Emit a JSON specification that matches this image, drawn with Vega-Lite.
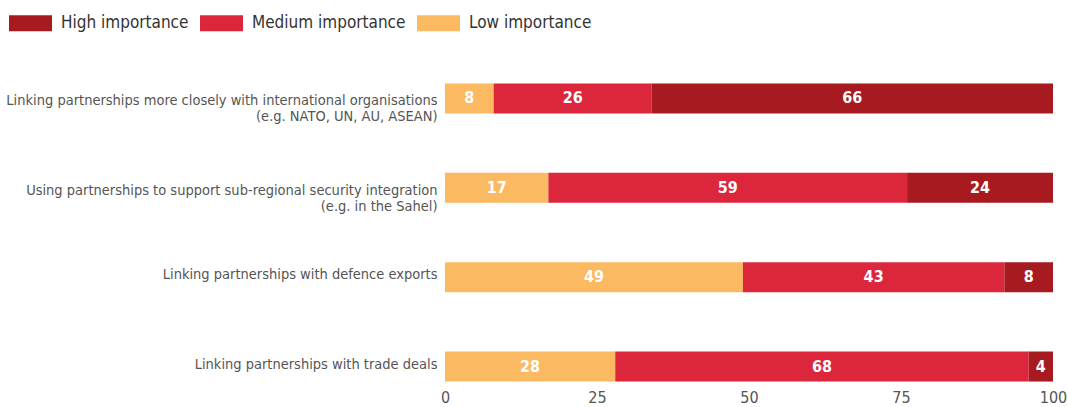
{
  "$schema": "https://vega.github.io/schema/vega-lite/v6.json",
  "width": 608,
  "height": 302,
  "autosize": "none",
  "padding": {"left": 445, "top": 81.5, "right": 15, "bottom": 23.5},
  "background": "white",
  "config": {
    "view": {"stroke": null},
    "font": "DejaVu Sans Condensed, sans-serif"
  },
  "data": {
    "values": [
      {"category": "Linking partnerships more closely with international organisations (e.g. NATO, UN, AU, ASEAN)", "level": "Low importance", "value": 8, "order": 1},
      {"category": "Linking partnerships more closely with international organisations (e.g. NATO, UN, AU, ASEAN)", "level": "Medium importance", "value": 26, "order": 2},
      {"category": "Linking partnerships more closely with international organisations (e.g. NATO, UN, AU, ASEAN)", "level": "High importance", "value": 66, "order": 3},
      {"category": "Using partnerships to support sub-regional security integration (e.g. in the Sahel)", "level": "Low importance", "value": 17, "order": 1},
      {"category": "Using partnerships to support sub-regional security integration (e.g. in the Sahel)", "level": "Medium importance", "value": 59, "order": 2},
      {"category": "Using partnerships to support sub-regional security integration (e.g. in the Sahel)", "level": "High importance", "value": 24, "order": 3},
      {"category": "Linking partnerships with defence exports", "level": "Low importance", "value": 49, "order": 1},
      {"category": "Linking partnerships with defence exports", "level": "Medium importance", "value": 43, "order": 2},
      {"category": "Linking partnerships with defence exports", "level": "High importance", "value": 8, "order": 3},
      {"category": "Linking partnerships with trade deals", "level": "Low importance", "value": 28, "order": 1},
      {"category": "Linking partnerships with trade deals", "level": "Medium importance", "value": 68, "order": 2},
      {"category": "Linking partnerships with trade deals", "level": "High importance", "value": 4, "order": 3}
    ]
  },
  "transform": [
    {"stack": "value", "groupby": ["category"], "sort": [{"field": "order"}], "as": ["v0", "v1"]}
  ],
  "encoding": {
    "y": {
      "field": "category",
      "type": "nominal",
      "sort": null,
      "title": null,
      "scale": {"paddingInner": 0.664, "paddingOuter": 0.022},
      "axis": {
        "domain": false,
        "ticks": false,
        "labelFontSize": 14.5,
        "labelColor": "#555555",
        "labelPadding": 8,
        "labelLimit": 600,
        "labelBaseline": "alphabetic",
        "labelLineHeight": 16,
        "labelOffset": {"condition": {"test": "indexof(datum.value, ' (e.g.') > 0", "value": 7}, "value": 2},
        "labelExpr": "indexof(datum.value, ' (e.g.') > 0 ? [substring(datum.value, 0, indexof(datum.value, ' (e.g.')), substring(datum.value, indexof(datum.value, ' (e.g.') + 1)] : datum.value"
      }
    }
  },
  "layer": [
    {
      "mark": {"type": "bar"},
      "encoding": {
        "x": {
          "field": "v0",
          "type": "quantitative",
          "title": null,
          "scale": {"domain": [0, 100]},
          "axis": {
            "values": [0, 25, 50, 75, 100],
            "domain": false,
            "ticks": false,
            "grid": false,
            "labelFontSize": 16,
            "labelColor": "#555555",
            "labelPadding": 6,
            "labelFlush": false
          }
        },
        "x2": {"field": "v1"},
        "color": {
          "field": "level",
          "type": "nominal",
          "scale": {
            "domain": ["High importance", "Medium importance", "Low importance"],
            "range": ["#a71a1f", "#dc263b", "#fbb961"]
          },
          "legend": {
            "title": null,
            "orient": "none",
            "legendX": -436,
            "legendY": -80,
            "direction": "horizontal",
            "symbolType": "M-1,-0.372H1V0.372H-1Z",
            "symbolSize": 1849,
            "symbolStrokeWidth": 0,
            "symbolOpacity": 1,
            "labelFontSize": 17,
            "labelColor": "#333333",
            "labelOffset": 9,
            "labelLimit": 400,
            "columnPadding": 11,
            "padding": 0
          }
        }
      }
    },
    {
      "mark": {"type": "text", "color": "white", "fontWeight": "bold", "fontSize": 16, "align": "center"},
      "encoding": {
        "x": {"value": {"expr": "scale('x', (datum.v0 + datum.v1) / 2)"}},
        "text": {"field": "value", "type": "quantitative"}
      }
    }
  ]
}
